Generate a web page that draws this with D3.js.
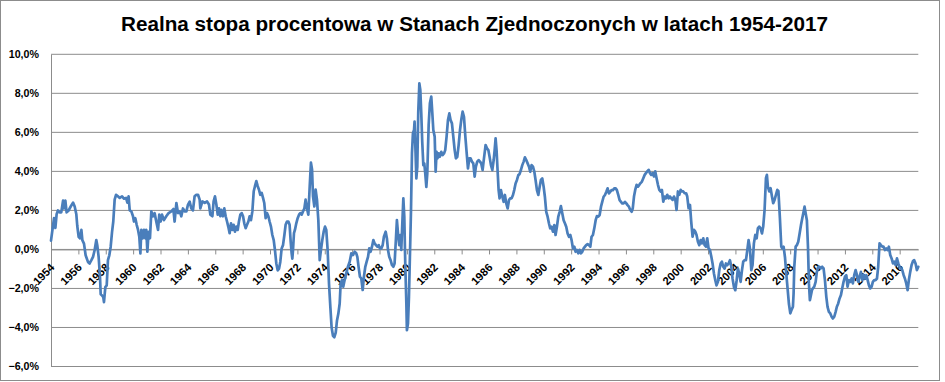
<!DOCTYPE html>
<html>
<head>
<meta charset="utf-8">
<script src="https://cdn.jsdelivr.net/npm/d3@7"></script>
<style>
  html, body { margin: 0; padding: 0; background: #fff; }
  svg { display: block; }
  text { font-family: "Liberation Sans", Arial, sans-serif; }
</style>
</head>
<body>
<svg id="chart" width="945" height="382"></svg>
<script>
const title = "Realna stopa procentowa w Stanach Zjednoczonych w latach 1954-2017";

const yTicks = [-6, -4, -2, 0, 2, 4, 6, 8, 10];
const xTickYears = d3.range(1954, 2017, 2);

// decimal years
const dates = [
1954.00,1954.22,1954.32,1954.41,1954.51,1954.63,1954.75,1954.88,1954.95,1955.05,1955.14,1955.29,1955.44,1955.61,1955.73,1955.85,1955.92,
1956.02,1956.12,1956.22,1956.29,1956.41,1956.53,1956.70,1956.82,1956.95,1957.07,1957.19,1957.31,1957.38,1957.48,1957.58,1957.63,1957.73,
1957.82,1957.87,1957.97,1958.07,1958.16,1958.26,1958.36,1958.46,1958.55,1958.65,1958.75,1958.89,1959.02,1959.19,1959.33,1959.48,1959.58,
1959.67,1959.75,1959.87,1959.99,1960.06,1960.16,1960.26,1960.36,1960.45,1960.53,1960.60,1960.70,1960.79,1960.89,1960.96,1961.04,1961.13,
1961.23,1961.33,1961.45,1961.57,1961.69,1961.82,1961.91,1962.01,1962.11,1962.25,1962.42,1962.59,1962.79,1962.94,1963.03,1963.16,1963.28,
1963.40,1963.52,1963.64,1963.76,1963.89,1964.01,1964.13,1964.25,1964.37,1964.49,
1964.62,1964.74,1964.86,1964.91,1965.06,1965.23,1965.40,1965.54,1965.64,1965.79,1965.88,1965.98,1966.08,1966.18,1966.27,1966.37,1966.44,
1966.56,1966.66,1966.76,1966.86,1966.95,1967.05,1967.15,1967.25,1967.34,1967.44,1967.54,1967.64,1967.73,1967.83,1967.93,1968.03,1968.12,
1968.22,1968.32,1968.42,1968.51,1968.61,1968.71,1968.81,1968.90,1969.00,1969.10,1969.19,1969.29,1969.39,1969.49,1969.58,1969.68,1969.78,
1969.88,1969.97,1970.07,1970.17,1970.27,1970.36,1970.46,1970.56,1970.66,1970.75,1970.85,1970.95,1971.05,1971.14,1971.24,1971.34,1971.43,
1971.51,1971.58,1971.63,1971.68,1971.75,1971.82,1971.92,1972.02,1972.12,1972.21,1972.31,1972.41,1972.51,1972.60,1972.70,1972.80,1972.90,
1972.99,1973.07,1973.14,1973.24,1973.33,1973.43,1973.53,1973.63,1973.72,1973.82,1973.92,1974.02,1974.11,1974.21,1974.31,1974.41,1974.50,
1974.60,1974.70,1974.80,1974.89,1974.99,
1975.09,1975.16,1975.26,1975.35,1975.45,1975.57,1975.69,1975.82,1975.94,1976.06,1976.18,1976.30,1976.38,1976.47,1976.57,1976.67,1976.77,
1976.86,1976.96,1977.06,1977.16,1977.25,1977.35,1977.45,1977.55,1977.64,1977.74,1977.84,1977.94,1978.03,1978.13,1978.23,1978.32,1978.45,
1978.54,1978.62,1978.71,1978.81,1978.91,1979.01,1979.10,1979.20,1979.27,1979.35,1979.44,1979.52,1979.59,1979.66,1979.74,1979.81,1979.88,
1979.96,1980.00,1980.08,1980.15,1980.22,1980.30,1980.37,1980.44,1980.52,1980.56,1980.61,1980.69,1980.76,1980.83,1980.91,1980.98,1981.05,
1981.12,1981.20,1981.27,1981.34,1981.42,1981.49,1981.59,1981.68,1981.78,1981.85,1981.93,1982.03,1982.10,1982.17,1982.24,1982.32,1982.41,
1982.51,1982.61,1982.71,1982.80,1982.90,1983.00,1983.10,1983.19,1983.29,1983.39,1983.49,1983.58,1983.68,1983.78,1983.88,1983.97,1984.07,
1984.17,1984.27,1984.36,1984.46,1984.56,1984.65,1984.75,1984.85,1984.95,1985.04,1985.14,1985.24,1985.34,1985.43,1985.53,1985.63,
1985.75,1985.85,1985.95,1986.04,1986.14,1986.24,1986.34,1986.41,1986.48,1986.55,1986.63,1986.70,1986.77,1986.87,1986.97,1987.07,1987.16,
1987.26,1987.36,1987.46,1987.55,1987.65,1987.75,1987.84,1987.94,1988.04,1988.14,1988.23,1988.33,1988.43,1988.53,1988.62,1988.72,1988.82,
1988.92,1989.01,1989.11,1989.21,1989.31,1989.40,1989.50,1989.60,1989.70,1989.79,1989.89,1989.99,1990.08,1990.18,1990.28,1990.38,1990.47,
1990.57,1990.67,1990.77,1990.86,1990.96,1991.06,1991.16,1991.25,1991.35,1991.45,1991.55,1991.64,1991.74,1991.84,1991.94,1992.03,1992.13,
1992.23,1992.32,1992.42,1992.52,1992.62,1992.71,1992.81,1992.91,1993.01,1993.10,1993.20,1993.30,1993.40,1993.49,1993.59,1993.69,1993.79,
1993.88,1993.98,1994.08,1994.18,1994.27,1994.37,1994.47,1994.57,1994.66,1994.76,1994.86,1994.95,1995.05,1995.15,1995.25,1995.34,1995.44,
1995.54,1995.64,1995.73,1995.83,1995.93,1996.03,1996.12,1996.22,1996.32,1996.42,
1996.50,1996.59,1996.68,1996.78,1996.88,1996.98,1997.07,1997.17,1997.27,1997.37,1997.46,1997.56,1997.66,1997.76,1997.85,1997.95,1998.05,
1998.14,1998.24,1998.34,1998.44,1998.53,1998.63,1998.73,1998.83,1998.92,1999.02,1999.12,1999.22,1999.31,1999.41,1999.51,1999.61,1999.70,
1999.80,1999.90,2000.00,2000.09,2000.19,2000.29,2000.40,2000.48,2000.58,2000.68,2000.77,2000.87,2000.97,2001.07,2001.16,2001.26,2001.36,
2001.46,2001.55,2001.65,2001.75,2001.85,2001.94,2002.04,2002.14,2002.24,2002.33,2002.43,2002.53,2002.62,2002.72,2002.82,2002.92,2003.01,
2003.11,2003.21,2003.31,2003.40,2003.50,2003.60,2003.70,2003.79,2003.89,2003.99,2004.09,2004.18,2004.28,2004.38,2004.48,2004.57,2004.67,
2004.77,2004.87,2004.96,2005.06,2005.16,2005.25,2005.35,2005.45,2005.55,2005.64,2005.74,2005.84,2005.94,2006.03,2006.13,2006.23,2006.30,
2006.37,2006.47,2006.57,2006.67,2006.76,2006.86,2006.96,2007.06,2007.14,
2007.25,2007.35,2007.42,2007.52,2007.62,2007.71,2007.81,2007.91,2008.01,2008.10,2008.20,2008.25,2008.30,2008.40,2008.49,2008.59,2008.69,
2008.79,2008.88,2008.98,2009.05,2009.13,2009.22,2009.30,2009.37,2009.44,2009.52,2009.59,2009.66,2009.76,2009.86,2009.95,2010.05,2010.15,
2010.25,2010.34,2010.44,2010.54,2010.64,2010.73,2010.83,2010.93,2011.03,2011.12,2011.22,2011.32,2011.41,2011.51,2011.61,2011.71,2011.80,
2011.90,2012.00,2012.10,2012.19,2012.29,2012.39,2012.49,2012.58,2012.68,2012.78,2012.88,2012.97,2013.07,2013.17,2013.27,2013.36,2013.46,
2013.56,2013.66,2013.75,2013.85,2013.95,2014.04,2014.14,2014.24,2014.34,2014.43,2014.53,2014.63,2014.73,2014.82,2014.92,2015.02,2015.12,
2015.21,2015.31,2015.41,2015.51,2015.60,2015.70,2015.80,2015.90,2015.99,2016.09,2016.19,2016.29,2016.38,2016.48,2016.58,2016.67,2016.77,
2016.87,2016.97,2017.06,2017.16,2017.26,2017.36
];

// real interest rate, percent
const values = [
0.45,1.6,1.1,1.8,2.0,1.9,1.9,2.5,2.1,2.5,1.9,2.0,2.2,2.4,2.2,1.8,1.2,
0.65,0.57,1.0,0.48,0.3,-0.3,-0.64,-0.72,-0.55,-0.38,-0.03,0.48,0.22,-0.38,-1.4,-2.3,-2.36,
-2.45,-2.7,-1.93,-1.84,-0.55,-0.3,0.14,0.9,1.43,2.55,2.8,2.72,2.64,2.72,2.6,2.64,2.4,
2.72,2.0,1.95,1.7,1.43,1.6,1.26,1.0,0.65,-0.2,1.0,0.57,1.0,0.57,1.0,-0.12,0.9,
0.57,1.95,1.7,1.86,1.43,1.0,1.78,1.43,1.78,1.5,1.7,1.86,1.95,2.07,1.43,2.38,1.86,
1.95,1.7,2.1,1.95,1.95,2.3,2.45,2.1,2.0,2.72,
2.8,2.8,2.55,2.1,2.46,2.38,2.46,2.3,1.78,1.7,2.46,2.72,2.3,1.78,2.1,1.7,2.03,
1.7,2.1,1.7,1.43,1.17,0.83,1.34,1.0,1.26,0.91,1.17,1.0,1.43,1.78,1.86,1.7,1.34,
1.09,1.26,1.43,1.7,1.5,1.95,2.98,3.24,3.5,3.24,3.07,2.8,2.9,2.64,2.38,1.6,1.86,
1.7,1.43,1.17,0.74,0.48,-0.03,-0.72,-1.07,-0.98,-0.64,0.05,0.22,0.74,1.26,1.43,1.43,1.26,
0.4,-0.2,-0.47,-0.03,0.83,1.0,1.34,1.6,1.78,1.86,1.78,1.95,2.1,2.55,2.1,1.78,3.24,
4.45,4.1,2.72,2.2,3.07,2.55,1.5,-0.55,-0.03,0.48,0.91,1.17,1.0,-0.03,-1.76,-2.97,-4.0,
-4.43,-4.5,-4.26,-3.66,-3.3,
-2.77,-1.74,-1.57,-1.91,-1.57,-1.23,-0.89,-0.63,-0.2,-0.29,-0.12,-0.2,-0.38,-0.89,-1.4,-1.49,-2.08,
-1.4,-0.89,-0.63,-0.38,0.05,-0.12,0.14,0.48,0.31,0.22,0.14,0.22,0.05,0.05,0.22,0.65,0.91,
0.56,-0.03,-0.38,-0.55,-0.8,-0.89,-0.72,0.56,1.5,0.82,0.22,0.74,-0.03,1.25,2.62,1.68,-0.72,
-2.77,-4.14,-3.8,-2.43,-0.38,2.02,4.92,5.95,6.12,6.55,5.44,3.64,4.24,7.06,8.51,8.17,6.97,
5.52,4.32,4.41,3.9,3.21,3.9,6.38,7.49,7.83,7.06,6.12,5.78,3.98,5.0,4.67,4.92,4.75,
5.0,4.84,4.92,5.09,5.78,6.63,6.97,6.63,6.46,5.78,5.09,4.67,4.75,5.35,6.12,6.63,7.06,
6.8,5.78,5.0,4.15,4.67,4.67,4.5,4.41,3.73,4.24,4.5,4.58,4.5,4.41,4.07,4.67,
5.35,5.18,5.09,4.75,4.32,4.07,4.58,5.09,5.69,5.09,3.98,3.04,2.62,3.04,2.7,2.44,2.79,
2.36,2.1,2.53,2.62,2.62,2.79,3.04,3.38,3.56,3.81,3.86,4.07,4.32,4.5,4.72,4.58,4.41,
4.24,3.98,4.32,4.24,3.98,3.56,3.04,2.79,3.21,3.56,3.64,3.21,2.7,1.93,1.68,1.33,1.08,
1.16,0.91,1.25,0.74,1.16,1.68,1.93,2.22,1.85,1.5,1.33,1.16,0.82,0.65,0.74,0.48,0.05,
0.14,-0.12,-0.03,-0.2,-0.03,-0.2,-0.12,0.05,0.14,0.22,0.27,0.22,0.14,0.65,0.74,1.08,1.5,
1.71,1.68,1.76,2.19,2.44,2.7,2.79,2.96,3.13,2.87,2.96,3.04,3.04,3.13,3.13,3.04,2.79,
2.53,2.44,2.36,2.36,2.44,2.36,2.27,2.19,2.02,1.93,
2.1,2.71,3.05,3.31,3.22,3.31,3.4,3.48,3.65,3.82,3.91,4.0,4.08,3.91,3.82,3.91,3.74,
4.0,3.65,3.31,3.05,2.97,3.05,2.45,2.71,2.62,2.8,2.62,2.71,2.62,2.54,2.71,2.54,2.02,
2.97,2.8,3.05,2.97,2.97,2.88,2.88,2.71,2.11,2.28,1.42,0.65,1.0,0.91,0.74,0.39,0.22,
0.48,0.31,0.57,0.22,0.14,0.57,0.05,-0.03,-0.38,-0.72,-1.23,-1.58,-1.84,-1.66,-1.06,-0.72,-0.63,
-0.89,-0.98,-0.72,-0.81,-0.72,-0.55,-0.89,-1.49,-1.92,-2.09,-1.58,-0.98,-1.23,-1.66,-1.06,-0.63,-0.55,
-0.55,-0.03,0.48,0.05,-1.06,-0.81,0.31,0.74,0.57,1.08,1.17,1.08,0.82,1.17,2.02,3.65,3.82,
3.22,2.97,3.14,2.71,2.37,2.54,2.8,3.05,3.0,
1.6,0.14,0.05,0.14,-0.4,-1.2,-2.0,-2.8,-3.28,-3.1,-2.94,-2.26,-0.89,0.14,0.22,0.39,0.82,
1.25,1.59,1.93,2.19,1.85,1.5,0.14,-1.74,-2.6,-2.34,-2.09,-2.0,-1.91,-1.66,-1.15,-0.89,-0.89,
-0.97,-0.89,-0.97,-1.57,-2.43,-2.94,-3.2,-3.28,-3.45,-3.54,-3.45,-3.2,-2.94,-2.77,-2.51,-2.34,-2.0,
-1.66,-1.4,-1.32,-1.91,-1.57,-1.66,-1.49,-1.74,-1.32,-1.06,-1.32,-1.66,-1.4,-1.15,-1.57,-1.32,-1.49,
-1.32,-1.57,-1.83,-2.0,-1.91,-1.66,-1.57,-1.57,-1.49,-0.89,0.31,0.22,0.14,0.14,-0.03,0.05,-0.03,
0.14,-0.29,-0.46,-0.72,-0.63,-0.8,-0.46,-0.72,-0.89,-0.97,-1.06,-1.32,-1.49,-1.74,-2.09,-1.57,-1.15,
-0.8,-0.6,-0.55,-0.72,-1.06,-0.89
];

const data = dates.map((d, i) => ({ t: d, v: values[i] }));

const svg = d3.select("#chart");
const plot = { left: 51, right: 918.3, top: 54.3, bottom: 366.5 };

// chart frame
svg.append("rect")
  .attr("x", 0.5).attr("y", 0.5)
  .attr("width", 939).attr("height", 380)
  .attr("fill", "#fff").attr("stroke", "#8c8c8c").attr("stroke-width", 1);

const x = d3.scaleLinear().domain([1954, dates[dates.length - 1]]).range([plot.left, plot.right]);
const y = d3.scaleLinear().domain([-6, 10]).range([plot.bottom, plot.top]);

const locale = d3.formatLocale({ decimal: ",", thousands: " ", grouping: [3], currency: ["", " zł"] });
const pct = v => locale.format(".1f")(v) + "%";

// gridlines
svg.append("g").selectAll("line").data(yTicks).join("line")
  .attr("x1", plot.left).attr("x2", plot.right)
  .attr("y1", d => y(d)).attr("y2", d => y(d))
  .attr("stroke", "#8c8c8c").attr("stroke-width", 1);

// y axis
const yAxis = svg.append("g").attr("transform", `translate(${plot.left},0)`)
  .call(d3.axisLeft(y).tickValues(yTicks).tickSize(0).tickPadding(12).tickFormat(pct));
yAxis.select(".domain").attr("stroke", "#8c8c8c");
yAxis.selectAll("text")
  .attr("font-size", "10.7px").attr("font-weight", "bold")
  .attr("font-family", "'Liberation Sans', Arial, sans-serif").attr("fill", "#000");

// x axis at 0%
const xAxis = svg.append("g").attr("transform", `translate(0,${y(0)})`)
  .call(d3.axisBottom(x).tickValues(xTickYears).tickSize(5).tickSizeOuter(0).tickFormat(d3.format("d")));
xAxis.select(".domain").attr("stroke", "#8c8c8c");
xAxis.selectAll(".tick line").attr("stroke", "#8c8c8c");
xAxis.selectAll("text")
  .attr("font-size", "11.2px").attr("font-weight", "bold")
  .attr("font-family", "'Liberation Sans', Arial, sans-serif").attr("fill", "#000")
  .attr("text-anchor", "end")
  .attr("x", 0).attr("y", 0).attr("dy", "0.35em")
  .attr("transform", "translate(1,16) rotate(-45)");

// line
const line = d3.line().x(d => x(d.t)).y(d => y(d.v));
svg.append("path").datum(data)
  .attr("d", line)
  .attr("fill", "none")
  .attr("stroke", "#4a7ebb")
  .attr("stroke-width", 2.7)
  .attr("stroke-linejoin", "round")
  .attr("stroke-linecap", "round");

// title
const t = svg.append("text")
  .attr("x", 474.5).attr("y", 31)
  .attr("text-anchor", "middle")
  .attr("font-weight", "bold")
  .attr("font-size", "22px")
  .attr("fill", "#000")
  .text(title);
const tw = t.node().getComputedTextLength();
t.attr("font-size", (22 * 707 / tw).toFixed(2) + "px");
</script>
</body>
</html>
